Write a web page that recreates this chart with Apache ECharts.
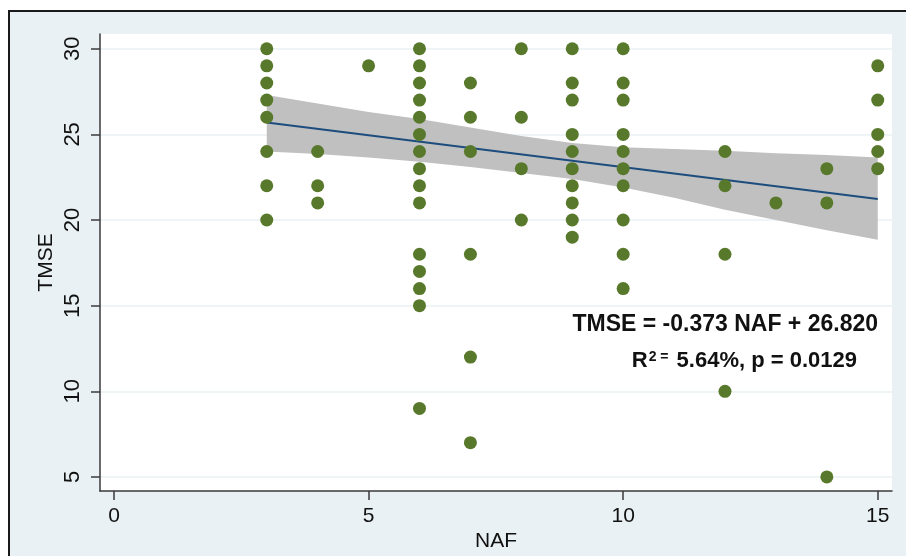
<!DOCTYPE html>
<html>
<head>
<meta charset="utf-8">
<script src="https://cdn.jsdelivr.net/npm/echarts@6/dist/echarts.min.js"></script>
<style>
  html, body { margin: 0; padding: 0; overflow: hidden; background: #fff; }
  #frame { position: absolute; left: 8px; top: 10px; width: 2000px; height: 2000px;
           background: #eaf1f4; border: 2px solid #1a1a1a; }
  #main { position: absolute; left: 0; top: 0; width: 906px; height: 556px; }
</style>
</head>
<body>
<div id="frame"></div>
<div id="main"></div>
<script>
// NAF levels and the TMSE scores observed at each level
var nafLevels = [3, 4, 5, 6, 7, 8, 9, 10, 12, 13, 14, 15];
var tmseByNaf = [
    [30, 29, 28, 27, 26, 24, 22, 20],
    [24, 22, 21],
    [29],
    [30, 29, 28, 27, 26, 25, 24, 23, 22, 21, 18, 17, 16, 15, 9],
    [28, 26, 24, 18, 12, 7],
    [30, 26, 23, 20],
    [30, 28, 27, 25, 24, 23, 22, 21, 20, 19],
    [30, 28, 27, 25, 24, 23, 22, 20, 18, 16],
    [24, 22, 18, 10],
    [21],
    [23, 21, 5],
    [29, 27, 25, 24, 23]
];

// fitted line (ends)
var fitX = [3, 15];
var fitY = [25.70, 21.23];

// 95% CI band
var bandX = [3, 4, 5, 6, 7, 8, 9, 10, 11, 12, 13, 14, 15];
var bandUpper = [27.3, 26.8, 26.3, 25.9, 25.4, 24.9, 24.5, 24.25, 24.15, 24.05, 23.9, 23.8, 23.65];
var bandLower = [24.0, 23.85, 23.65, 23.4, 23.1, 22.75, 22.4, 21.9, 21.3, 20.6, 20.0, 19.4, 18.85];

var yTicks = [5, 10, 15, 20, 25, 30];
var xTicks = [0, 5, 10, 15];

var points = [];
nafLevels.forEach(function (x, i) {
    tmseByNaf[i].forEach(function (y) { points.push([x, y]); });
});
var fitData = fitX.map(function (x, i) { return [x, fitY[i]]; });
var bandData = bandX.map(function (x, i) { return [x, bandLower[i], bandUpper[i]]; });

var font = 'Liberation Sans';
var axisColor = '#3a3a3a';

var myChart = echarts.init(document.getElementById('main'));
myChart.setOption({
    backgroundColor: 'transparent',
    animation: false,
    textStyle: { fontFamily: font },
    grid: {
        left: 100, right: 14, top: 34, bottom: 65,
        outerBoundsMode: 'none', containLabel: false,
        show: true, backgroundColor: '#fff', borderWidth: 0
    },
    xAxis: {
        type: 'value',
        min: -0.275, max: 15.28,
        name: 'NAF', nameLocation: 'middle', nameGap: 40, nameMoveOverlap: false,
        nameTextStyle: { fontSize: 21, color: '#111', fontFamily: font },
        axisLine: { onZero: false, lineStyle: { color: axisColor, width: 1.5 } },
        axisTick: { customValues: xTicks, length: 9, lineStyle: { color: axisColor, width: 1.5 } },
        axisLabel: { customValues: xTicks, fontSize: 21, color: '#111', margin: 15 },
        splitLine: { show: false }
    },
    yAxis: {
        type: 'value',
        min: 4.18, max: 30.86,
        name: 'TMSE', nameLocation: 'middle', nameGap: 43, nameRotate: 90, nameMoveOverlap: false,
        nameTextStyle: { fontSize: 21, color: '#111', fontFamily: font },
        axisLine: { show: true, onZero: false, lineStyle: { color: axisColor, width: 1.5 } },
        axisTick: { show: true, customValues: yTicks, length: 9, lineStyle: { color: axisColor, width: 1.5 } },
        axisLabel: { customValues: yTicks, rotate: 90, fontSize: 22, color: '#111', margin: 16 },
        splitLine: { show: true, lineStyle: { color: '#eaf1f4', width: 1.5 } }
    },
    series: [
        {
            type: 'custom',
            name: 'CI',
            renderItem: function (params, api) {
                if (params.dataIndex > 0) return;
                var top = bandData.map(function (d) { return api.coord([d[0], d[2]]); });
                var bottom = bandData.map(function (d) { return api.coord([d[0], d[1]]); }).reverse();
                return {
                    type: 'polygon',
                    shape: { points: top.concat(bottom) },
                    style: { fill: '#c0c0c0' }
                };
            },
            data: bandData,
            z: 1
        },
        {
            type: 'line',
            name: 'Fit',
            data: fitData,
            symbol: 'none',
            lineStyle: { color: '#1c4d7c', width: 2 },
            z: 2
        },
        {
            type: 'scatter',
            name: 'TMSE',
            data: points,
            symbolSize: 13,
            itemStyle: { color: '#58792b', opacity: 1 },
            z: 3
        }
    ],
    graphic: [
        {
            type: 'text',
            x: 878, y: 325,
            style: {
                text: 'TMSE = -0.373 NAF + 26.820',
                textAlign: 'right', textVerticalAlign: 'middle',
                font: 'bold 23px "Liberation Sans"', fill: '#111'
            },
            z: 10
        },
        {
            type: 'text',
            x: 857, y: 361,
            style: {
                text: '{r|R}{sup|2 =} 5.64%, p = 0.0129',
                textAlign: 'right', textVerticalAlign: 'middle',
                font: 'bold 22px "Liberation Sans"', fill: '#111',
                rich: {
                    r: { font: 'bold 22px "Liberation Sans"', fill: '#111' },
                    sup: { font: 'bold 14px "Liberation Sans"', fill: '#111', verticalAlign: 'top', padding: [0, 2, 0, 1] }
                }
            },
            z: 10
        }
    ]
});
</script>
</body>
</html>
